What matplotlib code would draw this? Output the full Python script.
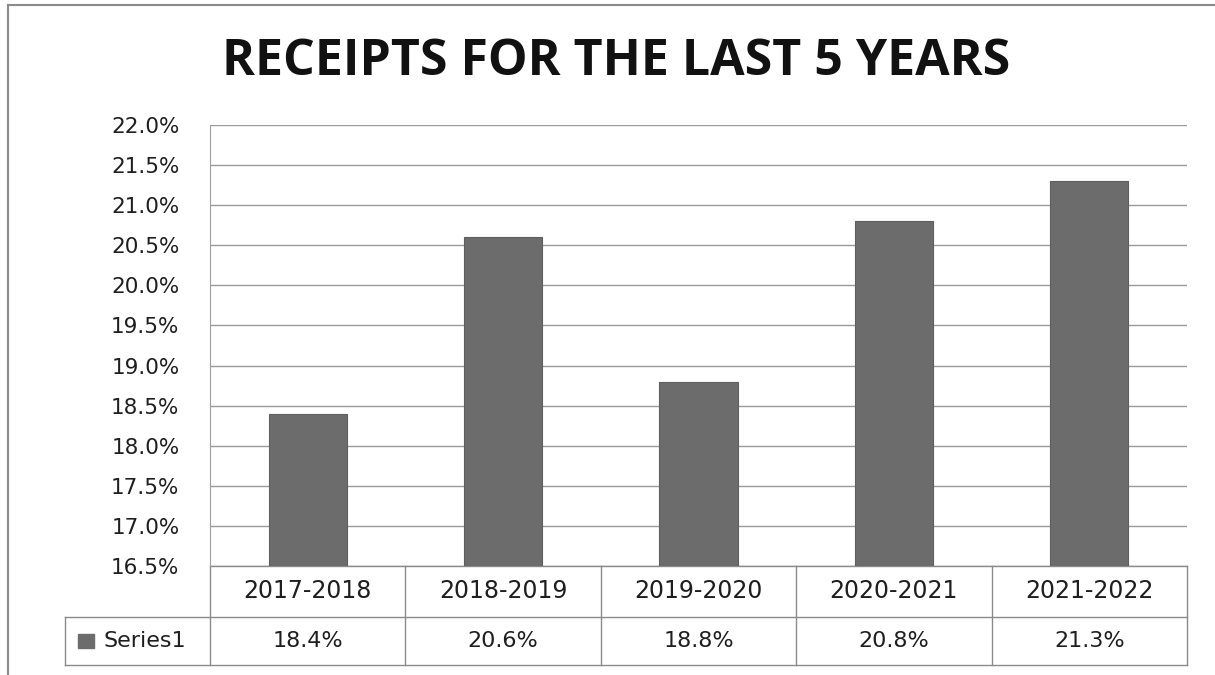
import matplotlib.pyplot as plt
from matplotlib.lines import Line2D
from matplotlib.patches import Rectangle
import matplotlib.transforms as mtransforms

# данные
years = ["2017-2018", "2018-2019", "2019-2020", "2020-2021", "2021-2022"]
receipts = [18.4, 20.6, 18.8, 20.8, 21.3]
series_name = "Series1"
y_ticks = [16.5, 17.0, 17.5, 18.0, 18.5, 19.0, 19.5, 20.0, 20.5, 21.0, 21.5, 22.0]

W, H = 1215, 675
fig = plt.figure(figsize=(W / 100, H / 100), dpi=100)
fig.patch.set_facecolor("white")

FONT = "DejaVu Sans"
TXT = "#1e1e1e"

ax = fig.add_axes([210 / W, 1 - 566 / H, (1187 - 210) / W, (566 - 125) / H])
x = list(range(len(years)))
ax.bar(x, [v - y_ticks[0] for v in receipts], bottom=y_ticks[0], width=0.4,
       color="#6c6c6c", edgecolor="#5e5e5e", linewidth=0.8, zorder=3)
ax.set_xlim(-0.5, len(years) - 0.5)
ax.set_ylim(y_ticks[0], y_ticks[-1])
ax.set_yticks(y_ticks)
ax.set_yticklabels([f"{t:.1f}%" for t in y_ticks], fontsize=15.5, family=FONT, color=TXT)
ax.set_xticks([])
ax.tick_params(axis="y", length=0, pad=22)
ax.grid(axis="y", color="#9a9a9a", linewidth=1.0, zorder=0)
for s in ["top", "right", "bottom"]:
    ax.spines[s].set_visible(False)
ax.spines["left"].set_color("#a0a0a0")

# таблица данных под графиком
trans = mtransforms.blended_transform_factory(ax.transData, ax.transAxes)
ah = 566 - 125
r1 = -51 / ah
r2 = -99 / ah
label_left = -0.5 - (210 - 65) / ((1187 - 210) / len(years))
lc = "#8a8a8a"
def hline(x0, x1, y):
    ax.add_line(Line2D([x0, x1], [y, y], transform=trans, color=lc, lw=1, clip_on=False))
def vline(xx, y0, y1):
    ax.add_line(Line2D([xx, xx], [y0, y1], transform=trans, color=lc, lw=1, clip_on=False))

hline(-0.5, len(years) - 0.5, 0)
hline(label_left, len(years) - 0.5, r1)
hline(label_left, len(years) - 0.5, r2)
vline(label_left, r1, r2)
for i in range(len(years) + 1):
    vline(i - 0.5, 0, r2)
for i, (yr, v) in enumerate(zip(years, receipts)):
    ax.text(i, r1 / 2, yr, transform=trans, ha="center", va="center",
            fontsize=17, family=FONT, color=TXT)
    ax.text(i, (r1 + r2) / 2, f"{v:.1f}%", transform=trans, ha="center", va="center",
            fontsize=16, family=FONT, color=TXT)
ax.add_patch(Rectangle((label_left + 0.065, (r1 + r2) / 2 - 0.016), 0.085, 0.032,
                       transform=trans, color="#6c6c6c", clip_on=False))
ax.text(label_left + 0.195, (r1 + r2) / 2, series_name, transform=trans, ha="left", va="center",
        fontsize=16, family=FONT, color=TXT)

fig.text(616 / W, 1 - 62 / H, "RECEIPTS FOR THE LAST 5 YEARS", ha="center", va="center",
         fontsize=36, fontweight="bold", family="Open Sans", color="#111111")

# рамка
fig.add_artist(Line2D([8 / W, 8 / W], [0, 1 - 5 / H], transform=fig.transFigure, color="#8a8a8a", lw=1.5))
fig.add_artist(Line2D([8 / W, 1], [1 - 5 / H, 1 - 5 / H], transform=fig.transFigure, color="#8a8a8a", lw=1.5))

fig.savefig("out.png", dpi=100)
